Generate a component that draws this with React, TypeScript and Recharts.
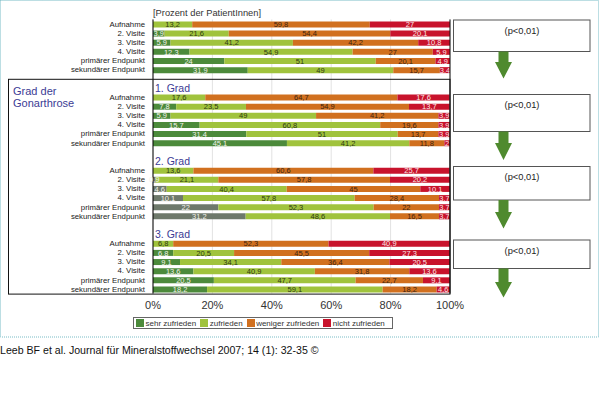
import React from 'react';
import { BarChart, Bar, XAxis, YAxis, CartesianGrid, LabelList, Legend, Cell } from 'recharts';

const rowLabels = ['Aufnahme', '2. Visite', '3. Visite', '4. Visite', 'primärer Endpunkt', 'sekundärer Endpunkt'];
const groupTitles = ['', '1. Grad', '2. Grad', '3. Grad'];

const sehrZufrieden = [
  [0, 3.9, 5.9, 12.3, 24, 31.9],
  [0, 7.8, 5.9, 15.7, 31.4, 45.1],
  [0, 0.9, 4.6, 10.1, 22, 31.2],
  [0, 6.8, 9.1, 13.6, 20.5, 18.2],
];
const zufrieden = [
  [13.2, 21.6, 41.2, 54.9, 51, 49],
  [17.6, 23.5, 49, 60.8, 51, 41.2],
  [13.6, 21.1, 40.4, 57.8, 52.3, 48.6],
  [6.8, 20.5, 34.1, 40.9, 47.7, 59.1],
];
const wenigerZufrieden = [
  [59.8, 54.4, 42.2, 27, 20.1, 15.7],
  [64.7, 54.9, 41.2, 19.6, 13.7, 11.8],
  [60.6, 57.8, 45, 28.4, 22, 16.5],
  [52.3, 45.5, 36.4, 31.8, 22.7, 18.2],
];
const nichtZufrieden = [
  [27, 20.1, 10.8, 5.9, 4.9, 3.4],
  [17.6, 13.7, 3.9, 3.9, 3.9, 2],
  [25.7, 20.2, 10.1, 3.7, 3.7, 3.7],
  [40.9, 27.3, 20.5, 13.6, 9.1, 4.6],
];
const seriesNames = ['sehr zufrieden', 'zufrieden', 'weniger zufrieden', 'nicht zufrieden'];
const xTicks = [0, 20, 40, 60, 80, 100];
const pTexts = ['(p<0,01)', '(p<0,01)', '(p<0,01)', '(p<0,01)'];
const citation = 'Leeb BF et al. Journal für Mineralstoffwechsel 2007; 14 (1): 32-35 ©';
const axisTitle = '[Prozent der PatientInnen]';
const boxTitle = ['Grad der', 'Gonarthrose'];

type Row = {
  key: string;
  label: string;
  title: string;
  group: number;
  sehr: number;
  zuf: number;
  wen: number;
  nicht: number;
};

const data: Row[] = [];
groupTitles.forEach((t, g) => {
  if (g > 0) {
    data.push({ key: `sp${g}a`, label: '', title: '', group: g, sehr: 0, zuf: 0, wen: 0, nicht: 0 });
    data.push({ key: `sp${g}b`, label: '', title: t, group: g, sehr: 0, zuf: 0, wen: 0, nicht: 0 });
  }
  rowLabels.forEach((l, i) => {
    data.push({
      key: `g${g}r${i}`,
      label: l,
      title: '',
      group: g,
      sehr: sehrZufrieden[g][i],
      zuf: zufrieden[g][i],
      wen: wenigerZufrieden[g][i],
      nicht: nichtZufrieden[g][i],
    });
  });
});
const rowByKey: Record<string, Row> = {};
data.forEach((r) => (rowByKey[r.key] = r));

const FONT = '"Liberation Sans", Arial, Helvetica, sans-serif';
const C_SEHR = '#4c8a3b';
const C_GRAY = '#6e796b';
const C_ZUF = '#a0c33d';
const C_WEN = '#d1701f';
const C_NICHT = '#c8132c';
const C_ARROW = '#4f8a2e';
const C_TITLE = '#3b3b94';
const seriesColors = [C_SEHR, C_ZUF, C_WEN, C_NICHT];

const fmt = (v: any) => (v === 0 || v === null || v === undefined ? '' : String(v).replace('.', ','));

const YTick = (props: any) => {
  const { x, y, payload } = props;
  const row = rowByKey[payload.value];
  if (!row) return <g />;
  if (row.title) {
    return (
      <text x={x + 10} y={y} dy="0.35em" textAnchor="start" fontSize={10.5} fill={C_TITLE} fontFamily={FONT}>
        {row.title}
      </text>
    );
  }
  if (!row.label) return <g />;
  return (
    <text x={x} y={y} dy="0.35em" textAnchor="end" fontSize={7.8} fill="#222" fontFamily={FONT}>
      {row.label}
    </text>
  );
};

const LegendContent = (props: any) => {
  const items = [...(props.payload || [])].sort(
    (a: any, b: any) => seriesNames.indexOf(a.value) - seriesNames.indexOf(b.value)
  );
  return (
    <div
      style={{
        display: 'flex',
        alignItems: 'center',
        border: '1px solid #666',
        height: 12,
        boxSizing: 'border-box',
        padding: '0 2px',
        fontSize: 8,
        color: '#333',
        fontFamily: FONT,
        background: '#fff',
        whiteSpace: 'nowrap',
      }}
    >
      {items.map((it: any, i: number) => (
        <span key={i} style={{ display: 'inline-flex', alignItems: 'center', marginRight: 4 }}>
          <span
            style={{
              width: 8,
              height: 8,
              background: seriesColors[seriesNames.indexOf(it.value)] || it.color,
              display: 'inline-block',
              marginRight: 1.5,
            }}
          />
          {it.value}
        </span>
      ))}
    </div>
  );
};

const pBoxes = [
  { top: 20, bottom: 51.5, headStart: 62, tip: 78.5 },
  { top: 94.5, bottom: 131.5, headStart: 143, tip: 160 },
  { top: 166.5, bottom: 200, headStart: 212, tip: 228.5 },
  { top: 240, bottom: 268.5, headStart: 282, tip: 297.5 },
];

export default function App() {
  const plotTop = 19.43;
  const plotBottom = 293.6;
  return (
    <div style={{ position: 'absolute', left: 0, top: 0, width: 600, height: 399, background: '#fff', fontFamily: FONT }}>
      <BarChart
        width={600}
        height={399}
        data={data}
        layout="vertical"
        margin={{ top: plotTop, right: 150, bottom: 85.4, left: 8 }}
        barSize={6}
      >
        <CartesianGrid horizontal={false} vertical stroke="#e2e2e2" />
        <XAxis
          type="number"
          domain={[0, 100]}
          allowDataOverflow
          ticks={xTicks}
          tickFormatter={(v: number) => `${v}%`}
          axisLine={false}
          tickLine={false}
          tickSize={6}
          tickMargin={2}
          height={20}
          tick={{ fontSize: 11, fill: '#333', fontFamily: FONT }}
        />
        <YAxis
          type="category"
          dataKey="key"
          width={145}
          interval={0}
          tickLine={false}
          axisLine={{ stroke: '#000' }}
          tick={<YTick />}
        />
        <Legend
          layout="horizontal"
          align="center"
          verticalAlign="middle"
          content={<LegendContent />}
          wrapperStyle={{ position: 'absolute', left: 133, top: 317, width: 260, height: 12 }}
        />
        <Bar dataKey="sehr" name={seriesNames[0]} stackId="a" fill={C_SEHR} isAnimationActive={false}>
          {data.map((r, i) => (
            <Cell key={i} fill={r.group === 2 ? C_GRAY : C_SEHR} />
          ))}
          <LabelList dataKey="sehr" position="center" formatter={fmt} fill="#f2f2ea" fontSize={7.5} fontFamily={FONT} />
        </Bar>
        <Bar dataKey="zuf" name={seriesNames[1]} stackId="a" fill={C_ZUF} isAnimationActive={false}>
          <LabelList dataKey="zuf" position="center" formatter={fmt} fill="#2e3a12" fontSize={7.5} fontFamily={FONT} />
        </Bar>
        <Bar dataKey="wen" name={seriesNames[2]} stackId="a" fill={C_WEN} isAnimationActive={false}>
          <LabelList dataKey="wen" position="center" formatter={fmt} fill="#3e2410" fontSize={7.5} fontFamily={FONT} />
        </Bar>
        <Bar dataKey="nicht" name={seriesNames[3]} stackId="a" fill={C_NICHT} isAnimationActive={false}>
          <LabelList dataKey="nicht" position="center" formatter={fmt} fill="#fbe6e6" fontSize={7.5} fontFamily={FONT} />
        </Bar>
      </BarChart>
      <svg
        width={600}
        height={399}
        style={{ position: 'absolute', left: 0, top: 0, pointerEvents: 'none' }}
      >
        <rect x={0.5} y={0.5} width={598} height={336.5} fill="none" stroke="#79bcc6" strokeDasharray="1 1" />
        <rect x={8.5} y={79.3} width={441.5} height={plotBottom - 79.3 + 0.5} fill="none" stroke="#111" strokeWidth={1} />
        <line x1={450} y1={plotTop} x2={450} y2={plotBottom} stroke="#111" strokeWidth={1} />
        <text x={153} y={12.5} dy="0.35em" fontSize={9.3} fill="#333" fontFamily={FONT}>
          {axisTitle}
        </text>
        <text x={13} y={91} dy="0.35em" fontSize={11} fill={C_TITLE} fontFamily={FONT}>
          {boxTitle[0]}
        </text>
        <text x={13} y={103} dy="0.35em" fontSize={11} fill={C_TITLE} fontFamily={FONT}>
          {boxTitle[1]}
        </text>
        {pBoxes.map((b, i) => (
          <g key={i}>
            <rect x={453.5} y={b.top} width={136.5} height={b.bottom - b.top} fill="#fff" stroke="#555" strokeWidth={1} />
            <text x={522} y={b.top + 10.5} dy="0.35em" textAnchor="middle" fontSize={9.3} fill="#222" fontFamily={FONT}>
              {pTexts[i]}
            </text>
            <polygon
              points={`${498.5},${b.bottom} ${508.5},${b.bottom} ${508.5},${b.headStart} ${512},${b.headStart} ${503.5},${b.tip} ${495},${b.headStart} ${498.5},${b.headStart}`}
              fill={C_ARROW}
            />
          </g>
        ))}
        <text x={0} y={350.5} dy="0.35em" fontSize={10.6} fill="#111" fontFamily={FONT}>
          {citation}
        </text>
      </svg>
    </div>
  );
}
